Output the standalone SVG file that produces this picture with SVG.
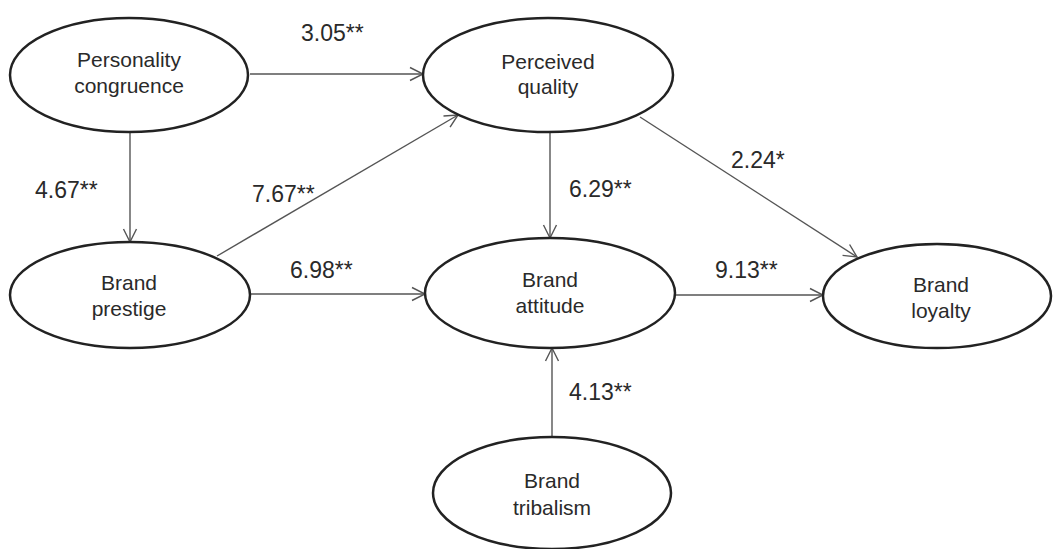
<svg xmlns="http://www.w3.org/2000/svg" width="1056" height="549" viewBox="0 0 1056 549">
<style>
.node ellipse{fill:#fff;stroke:#222;stroke-width:2.5}
.node text{font-family:"Liberation Sans",Arial,sans-serif;font-size:21px;fill:#2a2a2a;text-anchor:middle}
.edge{stroke:#555;stroke-width:1.4;fill:none;marker-end:url(#arr)}
.lbl{font-family:"Liberation Sans",Arial,sans-serif;font-size:23px;fill:#2a2a2a}
</style>
<defs>
<marker id="arr" markerUnits="userSpaceOnUse" markerWidth="16" markerHeight="16" refX="14" refY="8" orient="auto">
<path d="M1,1.5 L14,8 L1,14.5" fill="none" stroke="#555" stroke-width="1.4"/>
</marker>
</defs>
<rect width="1056" height="549" fill="#fff"/>
<g id="connectors">
<line class="edge" x1="250" y1="74" x2="423" y2="74"/>
<line class="edge" x1="130" y1="132" x2="130" y2="242"/>
<line class="edge" x1="217" y1="256" x2="458" y2="115"/>
<line class="edge" x1="250" y1="294" x2="425" y2="294"/>
<line class="edge" x1="550" y1="132" x2="550" y2="238"/>
<line class="edge" x1="640" y1="117" x2="857" y2="257"/>
<line class="edge" x1="675" y1="295" x2="823" y2="295"/>
<line class="edge" x1="552" y1="437" x2="552" y2="348"/>
<text class="lbl" x="301" y="41">3.05**</text>
<text class="lbl" x="35" y="198">4.67**</text>
<text class="lbl" x="252" y="202">7.67**</text>
<text class="lbl" x="290" y="278">6.98**</text>
<text class="lbl" x="569" y="197">6.29**</text>
<text class="lbl" x="731" y="168">2.24*</text>
<text class="lbl" x="715" y="278">9.13**</text>
<text class="lbl" x="569" y="400">4.13**</text>
</g>
<g id="personality" class="node">
<ellipse cx="129" cy="75" rx="119" ry="57"/>
<text x="129" y="67">Personality</text>
<text x="129" y="93">congruence</text>
</g>
<g id="perceived" class="node">
<ellipse cx="548" cy="75" rx="125" ry="57"/>
<text x="548" y="69">Perceived</text>
<text x="548" y="94">quality</text>
</g>
<g id="prestige" class="node">
<ellipse cx="130" cy="295" rx="120" ry="53"/>
<text x="129" y="290">Brand</text>
<text x="129" y="316">prestige</text>
</g>
<g id="attitude" class="node">
<ellipse cx="550" cy="293" rx="125" ry="55"/>
<text x="550" y="287">Brand</text>
<text x="550" y="313">attitude</text>
</g>
<g id="loyalty" class="node">
<ellipse cx="937" cy="296" rx="114" ry="52"/>
<text x="941" y="292">Brand</text>
<text x="941" y="318">loyalty</text>
</g>
<g id="tribalism" class="node">
<ellipse cx="552" cy="493" rx="119" ry="56"/>
<text x="552" y="488">Brand</text>
<text x="552" y="515">tribalism</text>
</g>
</svg>
